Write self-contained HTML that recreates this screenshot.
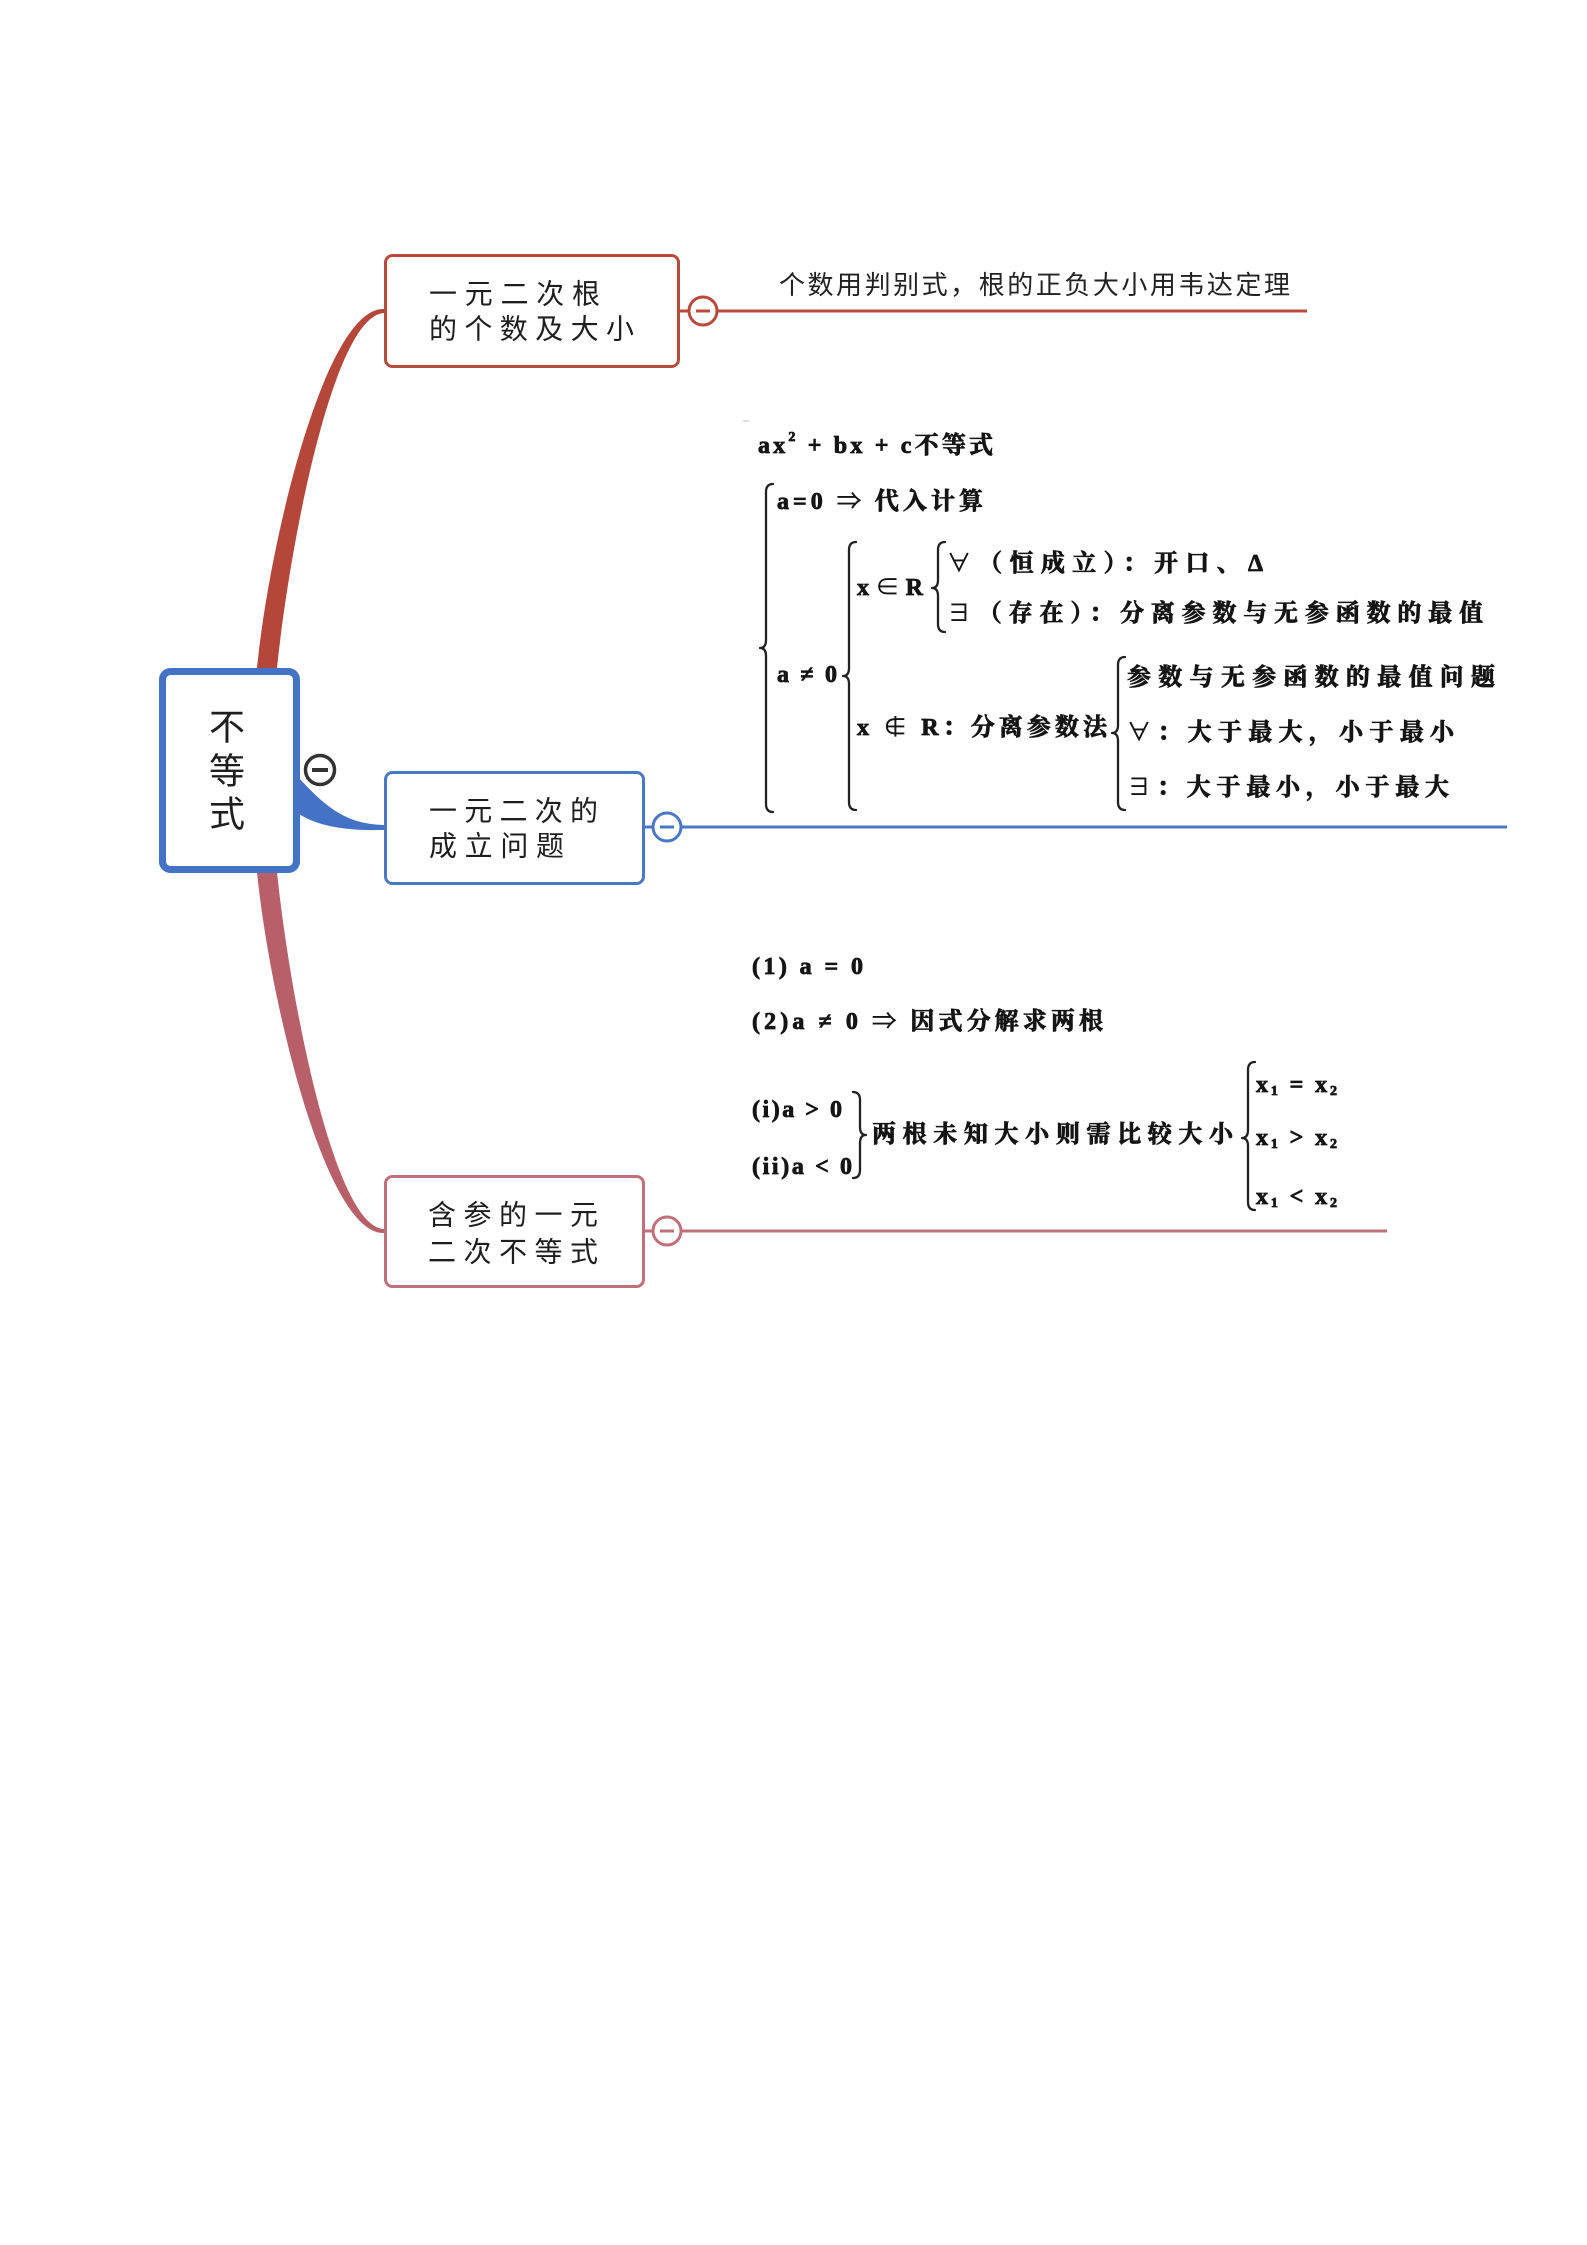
<!DOCTYPE html>
<html>
<head>
<meta charset="utf-8">
<style>
html,body{margin:0;padding:0;background:#fff;}
svg{display:block;}
.n{font-family:"Liberation Sans","Noto Sans CJK SC",sans-serif;font-size:28px;fill:#1e1e1e;}
.c{font-family:"Liberation Sans","Noto Sans CJK SC",sans-serif;font-size:36px;fill:#1e1e1e;}
.t{font-family:"Liberation Sans","Noto Sans CJK SC",sans-serif;font-size:26px;fill:#222;}
.m{font-family:"Liberation Serif","Noto Serif CJK SC","DejaVu Serif",serif;font-weight:700;font-size:24px;fill:#151515;stroke:#151515;stroke-width:0.8px;}
.br{fill:none;stroke:#222;stroke-width:2.3;stroke-linecap:round;stroke-linejoin:round;}
</style>
</head>
<body>
<svg width="1587" height="2245" viewBox="0 0 1587 2245" xmlns="http://www.w3.org/2000/svg">
<rect x="0" y="0" width="1587" height="2245" fill="#fff"/>

<!-- connectors -->
<path d="M257,668 C270,538 326,307 384,309 L384,313 C334,315 290,542 277,668 Z" fill="#b5473a"/>
<path d="M299,778 C330,812 350,824 384,825 L384,830 C345,831 318,826 299,814 Z" fill="#4472c4"/>
<path d="M257,872 C270,1002 326,1235 384,1233 L384,1229 C334,1227 290,998 277,872 Z" fill="#b8606a"/>

<!-- central node -->
<rect x="162.5" y="671.5" width="134" height="198" rx="8" ry="8" fill="#fff" stroke="#4472c4" stroke-width="7"/>
<text class="c" x="227" y="727" text-anchor="middle" dominant-baseline="central">不</text>
<text class="c" x="227" y="771" text-anchor="middle" dominant-baseline="central">等</text>
<text class="c" x="227" y="814" text-anchor="middle" dominant-baseline="central">式</text>
<circle cx="320" cy="770" r="14.5" fill="#fff" stroke="#333" stroke-width="3.5"/>
<line x1="312" y1="770" x2="328" y2="770" stroke="#333" stroke-width="4"/>

<!-- top node -->
<rect x="385.5" y="255.5" width="293" height="111" rx="7" ry="7" fill="#fff" stroke="#b84a3c" stroke-width="3"/>
<text class="n" x="429" y="294" dominant-baseline="central" textLength="171" lengthAdjust="spacing">一元二次根</text>
<text class="n" x="429" y="329" dominant-baseline="central" textLength="205" lengthAdjust="spacing">的个数及大小</text>
<line x1="680" y1="311" x2="690" y2="311" stroke="#b84a3c" stroke-width="3"/>
<circle cx="703" cy="311" r="14" fill="#fff" stroke="#b84a3c" stroke-width="3"/>
<line x1="696" y1="311" x2="710" y2="311" stroke="#b84a3c" stroke-width="3"/>
<line x1="717" y1="311" x2="1307" y2="311" stroke="#b84a3c" stroke-width="3"/>
<text class="t" x="779" y="285" dominant-baseline="central" textLength="511" lengthAdjust="spacing">个数用判别式，根的正负大小用韦达定理</text>

<!-- middle node -->
<rect x="385.5" y="772.5" width="258" height="111" rx="7" ry="7" fill="#fff" stroke="#4a78c4" stroke-width="3"/>
<text class="n" x="429" y="811" dominant-baseline="central" textLength="169" lengthAdjust="spacing">一元二次的</text>
<text class="n" x="429" y="846" dominant-baseline="central" textLength="135" lengthAdjust="spacing">成立问题</text>
<line x1="645" y1="827" x2="654" y2="827" stroke="#4a78c4" stroke-width="3"/>
<circle cx="667" cy="827" r="14" fill="#fff" stroke="#4a78c4" stroke-width="3"/>
<line x1="660" y1="827" x2="674" y2="827" stroke="#4a78c4" stroke-width="3"/>
<line x1="681" y1="827" x2="1507" y2="827" stroke="#4a78c4" stroke-width="3"/>

<!-- bottom node -->
<rect x="385.5" y="1176.5" width="258" height="110" rx="7" ry="7" fill="#fff" stroke="#c0707a" stroke-width="3"/>
<text class="n" x="428" y="1215" dominant-baseline="central" textLength="170" lengthAdjust="spacing">含参的一元</text>
<text class="n" x="428" y="1252" dominant-baseline="central" textLength="170" lengthAdjust="spacing">二次不等式</text>
<line x1="645" y1="1231" x2="654" y2="1231" stroke="#c0707a" stroke-width="3"/>
<circle cx="667" cy="1231" r="14" fill="#fff" stroke="#c0707a" stroke-width="3"/>
<line x1="660" y1="1231" x2="674" y2="1231" stroke="#c0707a" stroke-width="3"/>
<line x1="681" y1="1231" x2="1387" y2="1231" stroke="#c0707a" stroke-width="3"/>

<!-- middle block math -->
<line x1="743" y1="421" x2="749" y2="421" stroke="#bbb" stroke-width="1"/>
<text class="m" x="758" y="446" dominant-baseline="central" textLength="235" lengthAdjust="spacing">ax<tspan font-size="14" dy="-9">2</tspan><tspan dy="9"> + bx + c不等式</tspan></text>
<path class="br" d="M773,484 Q766,484 766,492 L766,640 Q766,648 760,648 Q766,648 766,656 L766,804 Q766,812 773,812"/>
<text class="m" x="777" y="502" dominant-baseline="central" textLength="206" lengthAdjust="spacing">a=0 ⇒ 代入计算</text>
<text class="m" x="777" y="675" dominant-baseline="central" textLength="60" lengthAdjust="spacing">a ≠ 0</text>
<path class="br" d="M856,542 Q849,542 849,550 L849,668 Q849,676 843,676 Q849,676 849,684 L849,802 Q849,810 856,810"/>
<text class="m" x="857" y="588" dominant-baseline="central" textLength="66" lengthAdjust="spacing">x ∈ R</text>
<path class="br" d="M945,542 Q938,542 938,550 L938,580 Q938,588 932,588 Q938,588 938,596 L938,624 Q938,632 945,632"/>
<text class="m" x="947" y="564" dominant-baseline="central" textLength="316" lengthAdjust="spacing">∀（恒成立）：开口、Δ</text>
<text class="m" x="947" y="614" dominant-baseline="central" textLength="536" lengthAdjust="spacing">∃（存在）：分离参数与无参函数的最值</text>
<text class="m" x="857" y="728" dominant-baseline="central" textLength="250" lengthAdjust="spacing">x ∉ R：分离参数法</text>
<path class="br" d="M1125,657 Q1118,657 1118,665 L1118,725 Q1118,733 1112,733 Q1118,733 1118,741 L1118,802 Q1118,810 1125,810"/>
<text class="m" x="1127" y="678" dominant-baseline="central" textLength="368" lengthAdjust="spacing">参数与无参函数的最值问题</text>
<text class="m" x="1127" y="733" dominant-baseline="central" textLength="327" lengthAdjust="spacing">∀：大于最大，小于最小</text>
<text class="m" x="1127" y="788" dominant-baseline="central" textLength="322" lengthAdjust="spacing">∃：大于最小，小于最大</text>

<!-- bottom block math -->
<text class="m" x="752" y="967" dominant-baseline="central" textLength="111" lengthAdjust="spacing">(1)  a = 0</text>
<text class="m" x="752" y="1022" dominant-baseline="central" textLength="351" lengthAdjust="spacing">(2)a ≠ 0 ⇒ 因式分解求两根</text>
<text class="m" x="752" y="1110" dominant-baseline="central" textLength="90" lengthAdjust="spacing">(i)a &gt; 0</text>
<text class="m" x="752" y="1167" dominant-baseline="central" textLength="100" lengthAdjust="spacing">(ii)a &lt; 0</text>
<path class="br" d="M853,1092 Q860,1092 860,1100 L860,1127 Q860,1135 866,1135 Q860,1135 860,1143 L860,1170 Q860,1178 853,1178"/>
<text class="m" x="872" y="1135" dominant-baseline="central" textLength="361" lengthAdjust="spacing">两根未知大小则需比较大小</text>
<path class="br" d="M1255,1062 Q1248,1062 1248,1070 L1248,1130 Q1248,1138 1242,1138 Q1248,1138 1248,1146 L1248,1202 Q1248,1210 1255,1210"/>
<text class="m" x="1256" y="1085" dominant-baseline="central" textLength="81" lengthAdjust="spacing">x<tspan font-size="14" dy="6">1</tspan><tspan dy="-6"> = x</tspan><tspan font-size="14" dy="6">2</tspan></text>
<text class="m" x="1256" y="1138" dominant-baseline="central" textLength="81" lengthAdjust="spacing">x<tspan font-size="14" dy="6">1</tspan><tspan dy="-6"> &gt; x</tspan><tspan font-size="14" dy="6">2</tspan></text>
<text class="m" x="1256" y="1197" dominant-baseline="central" textLength="81" lengthAdjust="spacing">x<tspan font-size="14" dy="6">1</tspan><tspan dy="-6"> &lt; x</tspan><tspan font-size="14" dy="6">2</tspan></text>
</svg>
</body>
</html>
